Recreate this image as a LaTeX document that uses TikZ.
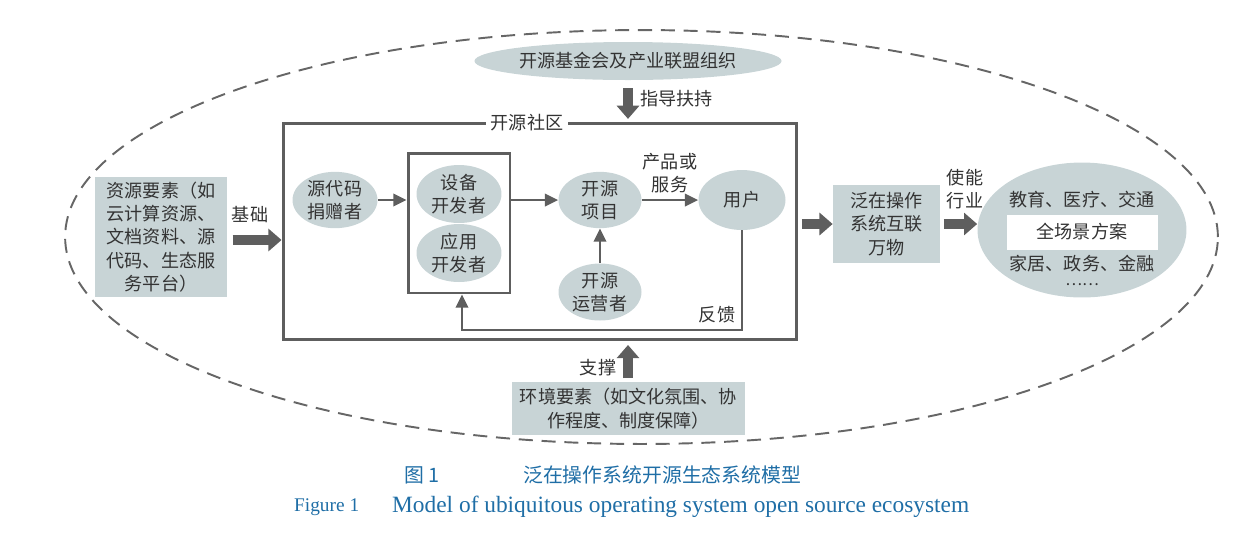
\documentclass[tikz,border=0pt]{standalone}
\usepackage{fontspec}
\setmainfont{Liberation Serif}
\newfontfamily\cjk{Noto Sans CJK SC}
\usepackage{tikz}
\usetikzlibrary{arrows.meta,positioning,shapes.geometric,calc}

\definecolor{nodefill}{HTML}{C8D4D6}
\definecolor{linegray}{HTML}{5E5E5E}
\definecolor{dashgray}{HTML}{666666}
\definecolor{textgray}{HTML}{333333}
\definecolor{capblue}{HTML}{1F6EA6}

\tikzset{
  ell/.style={ellipse,fill=nodefill,inner sep=0pt,align=center},
  gbox/.style={rectangle,fill=nodefill,inner sep=0pt,align=center},
  frame/.style={draw=linegray,line width=1.7pt,inner sep=0pt},
  thinarrow/.style={draw=linegray,line width=1.4pt,-{Triangle[length=7.5pt,width=7pt]}},
  fatarrow/.style={draw=linegray,line width=5.7pt,-{Triangle[length=7.5pt,width=12.5pt]}},
  lbl/.style={inner sep=1pt,align=center}
}

\begin{document}
\begin{tikzpicture}[x=0.02cm,y=-0.02cm,font=\cjk\fontsize{10.3}{13.3}\selectfont,text=textgray]
\useasboundingbox (0,0) rectangle (1250,532);

% outer ecosystem boundary
\draw[dashgray,line width=1.1pt,dash pattern=on 8pt off 5pt] (641.5,237) ellipse [x radius=11.53cm,y radius=4.14cm];

\node[ell,minimum width=5.54cm,minimum height=0.76cm] (found) at (628,61) {开源基金会及产业联盟组织};

% open source community
\node[frame,minimum width=10.28cm,minimum height=4.34cm] (comm) at (540,231.5) {};
\node[fill=white,inner sep=3pt] (commlbl) at (527,123) {开源社区};

\node[ell,minimum width=1.7cm,minimum height=1.1cm] (donor) at (335,200) {源代码\\捐赠者};
\node[frame,minimum width=2.04cm,minimum height=2.8cm] (devbox) at (459,223) {};
\node[ell,minimum width=1.7cm,minimum height=1.16cm] (devdev) at (459,194) {设备\\开发者};
\node[ell,minimum width=1.7cm,minimum height=1.16cm] (appdev) at (459,253) {应用\\开发者};
\node[ell,minimum width=1.66cm,minimum height=1.1cm] (proj) at (600,200) {开源\\项目};
\node[ell,minimum width=1.74cm,minimum height=1.2cm] (user) at (742,200) {用户};
\node[ell,minimum width=1.66cm,minimum height=1.14cm] (oper) at (600,292) {开源\\运营者};

\draw[thinarrow] (donor) -- (devbox.west |- donor);
\draw[thinarrow] (devbox.east |- proj) -- (proj);
\draw[thinarrow] (proj) -- (user);
\draw[thinarrow] (oper) -- (proj);
\node[lbl] (prodlbl) at (670,173) {产品或\\服务};

% feedback loop
\coordinate (fbturn) at (462,330);
\draw[thinarrow] (user.south) |- (fbturn) -- (devbox.south -| fbturn);
\node[lbl] (fblbl) at (717,315) {反馈};

% resources and environment
\node[gbox,minimum width=2.64cm,minimum height=2.4cm] (res) at (161,237) {资源要素（如\\云计算资源、\\文档资料、源\\代码、生态服\\务平台）};
\node[gbox,minimum width=4.66cm,minimum height=1.06cm] (env) at (628.5,408.5) {环境要素（如文化氛围、协\\作程度、制度保障）};

\draw[fatarrow,shorten <=3pt] ([yshift=-0.06cm]res.east) -- ([yshift=-0.06cm]res.east -| comm.west);
\node[lbl] (baselbl) at (250,215) {基础};
\draw[fatarrow,shorten <=4.5pt,shorten >=1.5pt] (found.south -| 628,0) -- (comm.north -| 628,0);
\node[lbl,anchor=west] (guidelbl) at (638,99) {指导扶持};
\draw[fatarrow,shorten <=2pt,shorten >=2pt] (env.north -| 628,0) -- (comm.south -| 628,0);
\node[lbl] (supportlbl) at (598,368) {支撑};

% ubiquitous OS and industries
\node[gbox,minimum width=2.14cm,minimum height=1.56cm] (ubiq) at (886.5,224) {泛在操作\\系统互联\\万物};
\node[ell,minimum width=4.18cm,minimum height=2.7cm] (app) at (1082,230) {};
\draw[fatarrow,shorten <=2pt] (ubiq.west -| comm.east) -- (ubiq.west);
\draw[fatarrow,shorten <=2pt] (ubiq.east) -- (ubiq.east -| app.west);
\node[lbl] (enablelbl) at (965,189) {使能\\行业};
\node[lbl] (apptop) at (1082,200) {教育、医疗、交通};
\node[fill=white,minimum width=3.02cm,minimum height=0.7cm,inner sep=0pt] (scene) at (1082,232) {全场景方案};
\node[lbl,inner sep=0pt] (appbot) at (1082,264) {家居、政务、金融};
\node[lbl,inner sep=0pt,font=\cjk\fontsize{9}{10}\selectfont] (appdots) at (1082,285) {……};

% caption
\node[capblue,anchor=west,font=\cjk\fontsize{11.3}{13}\selectfont] (capnum) at (398,475) {图 1};
\node[capblue,anchor=west,font=\cjk\fontsize{11.3}{13}\selectfont] (capzh) at (517,475) {泛在操作系统开源生态系统模型};
\node[capblue,anchor=west,font=\fontsize{11}{13}\selectfont] (capfig) at (288,507) {Figure 1};
\node[capblue,anchor=west,font=\fontsize{13.3}{15}\selectfont] (capeng) at (386,507) {Model of ubiquitous operating system open source ecosystem};
\end{tikzpicture}
\end{document}
